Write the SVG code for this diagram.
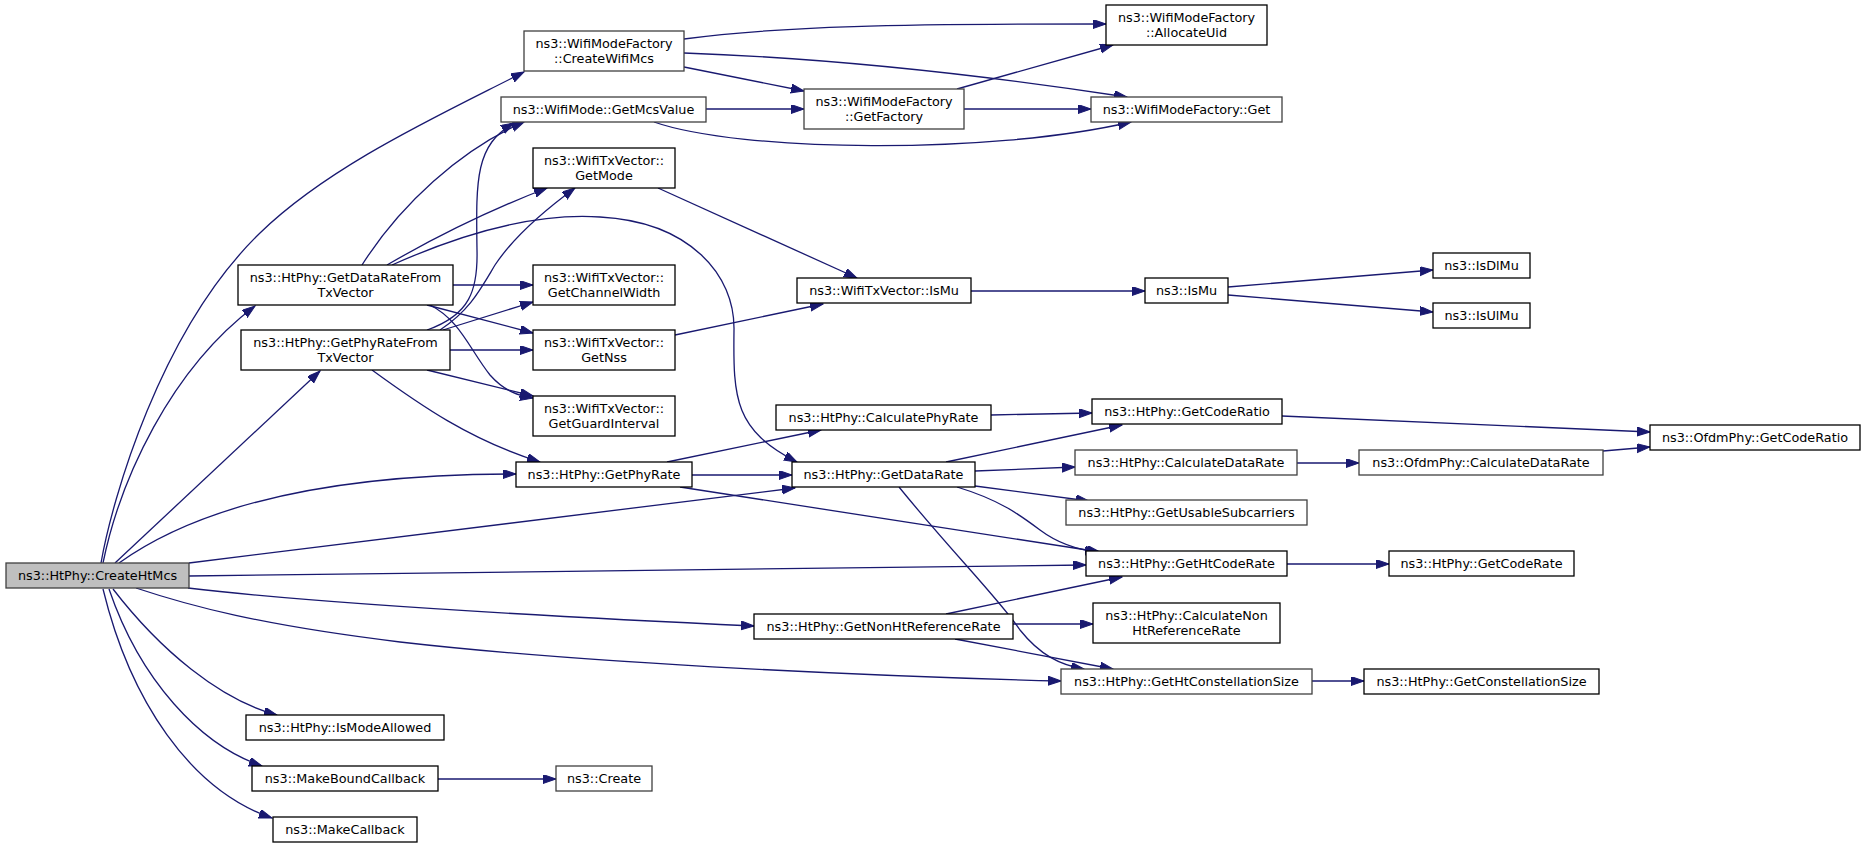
<svg xmlns="http://www.w3.org/2000/svg" width="1867" height="848" viewBox="0 0 1867 848">
<style>
.n rect{fill:#ffffff;stroke:#000000;stroke-width:1.3}
.n.gr rect{stroke:#404040}
.n.root rect{fill:#bfbfbf;stroke:#404040}
.n text{font-family:"DejaVu Sans","Liberation Sans",sans-serif;font-size:12.8px;fill:#000000;text-anchor:middle}
.e path{fill:none;stroke:#191970;stroke-width:1.3;marker-end:url(#ah)}
</style>
<defs>
<marker id="ah" markerUnits="userSpaceOnUse" markerWidth="14" markerHeight="10" refX="13" refY="4.5" orient="auto">
<path d="M0,0 L13,4.5 L0,9 z" fill="#191970" stroke="#191970" stroke-width="1"/>
</marker>
</defs>
<rect x="0" y="0" width="1867" height="848" fill="#ffffff"/>
<g id="edges" class="e">
<path d="M101,563 C112,500 160,330 260,233 C330,165 440,115 524,72"/>
<path d="M103,563 C120,480 170,370 255,306"/>
<path d="M115,563 L320,371"/>
<path d="M119,563 C200,505 330,474 516,474"/>
<path d="M189,563 L795,488"/>
<path d="M189,576 C500,570 800,566 1086,565"/>
<path d="M188,588 C330,605 560,617 754,626"/>
<path d="M136,588 C190,606 260,625 400,642 C600,665 900,677 1061,681"/>
<path d="M113,589 C160,650 220,700 277,715"/>
<path d="M109,589 C140,680 200,745 262,766"/>
<path d="M103,589 C130,700 190,790 272,818"/>
<path d="M362,265 C400,205 460,150 524,122"/>
<path d="M387,265 C430,240 490,210 547,188"/>
<path d="M392,265 C470,230 540,213 600,217 C690,222 735,275 734,330 C733,400 735,430 797,462"/>
<path d="M453,285 L533,285"/>
<path d="M427,305 L533,333"/>
<path d="M430,305 C460,320 470,350 490,375 C505,392 520,396 533,398"/>
<path d="M427,330 C470,315 478,290 477,250 C476,180 475,145 514,123"/>
<path d="M440,330 C470,310 480,290 495,265 C515,235 545,210 575,188"/>
<path d="M443,330 L533,302"/>
<path d="M450,350 L533,350"/>
<path d="M427,370 L533,396"/>
<path d="M372,370 C420,405 470,440 540,462"/>
<path d="M684,39 C780,26 900,24 1106,24"/>
<path d="M684,67 L804,91"/>
<path d="M684,53 C800,57 950,70 1127,97"/>
<path d="M706,109 L804,109"/>
<path d="M654,122 C740,152 990,155 1131,122"/>
<path d="M957,89 L1113,45"/>
<path d="M964,109 L1091,109"/>
<path d="M658,188 L857,278"/>
<path d="M675,335 L823,304"/>
<path d="M971,291 L1145,291"/>
<path d="M1228,287 L1433,270"/>
<path d="M1228,295 L1433,312"/>
<path d="M667,462 L821,430"/>
<path d="M692,475 L792,475"/>
<path d="M680,487 L1100,552"/>
<path d="M991,415 L1092,413"/>
<path d="M946,462 L1122,425"/>
<path d="M975,471 L1075,467"/>
<path d="M975,486 L1089,501"/>
<path d="M957,487 C1000,500 1020,515 1040,530 C1060,545 1080,550 1098,552"/>
<path d="M899,487 C950,550 1000,600 1020,630 C1040,655 1060,665 1084,669"/>
<path d="M1282,416 L1650,432"/>
<path d="M1297,463 L1359,463"/>
<path d="M1603,451 L1650,447"/>
<path d="M1287,564 L1389,564"/>
<path d="M946,614 L1122,577"/>
<path d="M1013,624 L1093,624"/>
<path d="M955,639 L1113,669"/>
<path d="M1312,681 L1364,681"/>
<path d="M438,779 L556,779"/>
</g>
<g id="n_createhtmcs" class="n root"><rect x="6" y="563" width="183" height="25"/><text x="97.5" y="580">ns3::HtPhy::CreateHtMcs</text></g>
<g id="n_createwifimcs" class="n gr"><rect x="524" y="31" width="160" height="40"/><text x="604" y="47.5">ns3::WifiModeFactory</text><text x="604" y="62.5">::CreateWifiMcs</text></g>
<g id="n_getmcsvalue" class="n gr"><rect x="501" y="97" width="205" height="25"/><text x="603.5" y="114">ns3::WifiMode::GetMcsValue</text></g>
<g id="n_getmode" class="n"><rect x="533" y="148" width="142" height="40"/><text x="604" y="164.5">ns3::WifiTxVector::</text><text x="604" y="179.5">GetMode</text></g>
<g id="n_getdataratefromtxvector" class="n"><rect x="238" y="265" width="215" height="40"/><text x="345.5" y="281.5">ns3::HtPhy::GetDataRateFrom</text><text x="345.5" y="296.5">TxVector</text></g>
<g id="n_getphyratefromtxvector" class="n"><rect x="241" y="330" width="209" height="40"/><text x="345.5" y="346.5">ns3::HtPhy::GetPhyRateFrom</text><text x="345.5" y="361.5">TxVector</text></g>
<g id="n_getchannelwidth" class="n"><rect x="533" y="265" width="142" height="40"/><text x="604" y="281.5">ns3::WifiTxVector::</text><text x="604" y="296.5">GetChannelWidth</text></g>
<g id="n_getnss" class="n"><rect x="533" y="330" width="142" height="40"/><text x="604" y="346.5">ns3::WifiTxVector::</text><text x="604" y="361.5">GetNss</text></g>
<g id="n_getguardinterval" class="n"><rect x="533" y="396" width="142" height="40"/><text x="604" y="412.5">ns3::WifiTxVector::</text><text x="604" y="427.5">GetGuardInterval</text></g>
<g id="n_getphyrate" class="n"><rect x="516" y="462" width="176" height="25"/><text x="604" y="479">ns3::HtPhy::GetPhyRate</text></g>
<g id="n_calculatephyrate" class="n"><rect x="776" y="405" width="215" height="25"/><text x="883.5" y="422">ns3::HtPhy::CalculatePhyRate</text></g>
<g id="n_getdatarate" class="n"><rect x="792" y="462" width="183" height="25"/><text x="883.5" y="479">ns3::HtPhy::GetDataRate</text></g>
<g id="n_getnonhtreferencerate" class="n"><rect x="754" y="614" width="259" height="25"/><text x="883.5" y="631">ns3::HtPhy::GetNonHtReferenceRate</text></g>
<g id="n_ismodeallowed" class="n"><rect x="246" y="715" width="198" height="25"/><text x="345" y="732">ns3::HtPhy::IsModeAllowed</text></g>
<g id="n_makeboundcallback" class="n"><rect x="252" y="766" width="186" height="25"/><text x="345" y="783">ns3::MakeBoundCallback</text></g>
<g id="n_makecallback" class="n"><rect x="273" y="817" width="144" height="25"/><text x="345" y="834">ns3::MakeCallback</text></g>
<g id="n_create" class="n gr"><rect x="556" y="766" width="96" height="25"/><text x="604" y="783">ns3::Create</text></g>
<g id="n_allocateuid" class="n"><rect x="1106" y="5" width="161" height="40"/><text x="1186.5" y="21.5">ns3::WifiModeFactory</text><text x="1186.5" y="36.5">::AllocateUid</text></g>
<g id="n_getfactory" class="n gr"><rect x="804" y="89" width="160" height="40"/><text x="884" y="105.5">ns3::WifiModeFactory</text><text x="884" y="120.5">::GetFactory</text></g>
<g id="n_wmfget" class="n gr"><rect x="1091" y="97" width="191" height="25"/><text x="1186.5" y="114">ns3::WifiModeFactory::Get</text></g>
<g id="n_txismu" class="n"><rect x="797" y="278" width="174" height="25"/><text x="884" y="295">ns3::WifiTxVector::IsMu</text></g>
<g id="n_ismu" class="n"><rect x="1145" y="278" width="83" height="25"/><text x="1186.5" y="295">ns3::IsMu</text></g>
<g id="n_isdlmu" class="n"><rect x="1433" y="253" width="97" height="25"/><text x="1481.5" y="270">ns3::IsDlMu</text></g>
<g id="n_isulmu" class="n"><rect x="1433" y="303" width="97" height="25"/><text x="1481.5" y="320">ns3::IsUlMu</text></g>
<g id="n_htgetcoderatio" class="n"><rect x="1092" y="399" width="190" height="25"/><text x="1187" y="416">ns3::HtPhy::GetCodeRatio</text></g>
<g id="n_htcalculatedatarate" class="n gr"><rect x="1075" y="450" width="222" height="25"/><text x="1186" y="467">ns3::HtPhy::CalculateDataRate</text></g>
<g id="n_getusablesubcarriers" class="n gr"><rect x="1066" y="500" width="241" height="25"/><text x="1186.5" y="517">ns3::HtPhy::GetUsableSubcarriers</text></g>
<g id="n_gethtcoderate" class="n"><rect x="1086" y="551" width="201" height="25"/><text x="1186.5" y="568">ns3::HtPhy::GetHtCodeRate</text></g>
<g id="n_calcnonht" class="n"><rect x="1093" y="603" width="187" height="40"/><text x="1186.5" y="619.5">ns3::HtPhy::CalculateNon</text><text x="1186.5" y="634.5">HtReferenceRate</text></g>
<g id="n_gethtconstellationsize" class="n gr"><rect x="1061" y="669" width="251" height="25"/><text x="1186.5" y="686">ns3::HtPhy::GetHtConstellationSize</text></g>
<g id="n_ofdmgetcoderatio" class="n"><rect x="1650" y="425" width="210" height="25"/><text x="1755" y="442">ns3::OfdmPhy::GetCodeRatio</text></g>
<g id="n_ofdmcalculatedatarate" class="n gr"><rect x="1359" y="450" width="244" height="25"/><text x="1481" y="467">ns3::OfdmPhy::CalculateDataRate</text></g>
<g id="n_htgetcoderate" class="n"><rect x="1389" y="551" width="185" height="25"/><text x="1481.5" y="568">ns3::HtPhy::GetCodeRate</text></g>
<g id="n_htgetconstellationsize" class="n"><rect x="1364" y="669" width="235" height="25"/><text x="1481.5" y="686">ns3::HtPhy::GetConstellationSize</text></g>
</svg>
